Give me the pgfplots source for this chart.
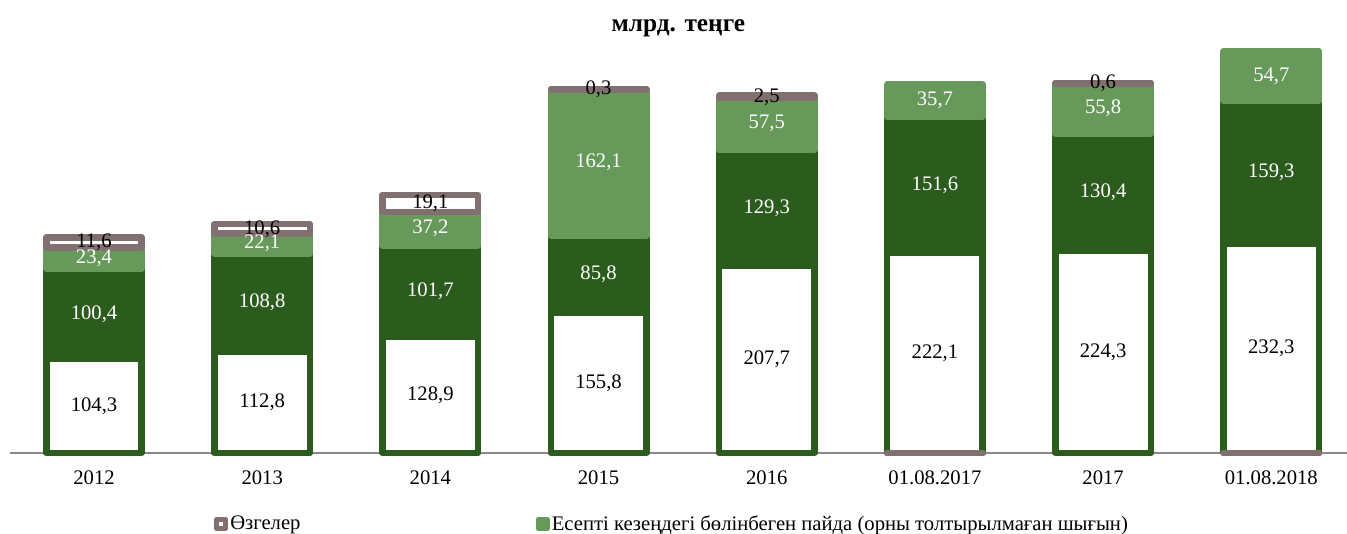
\documentclass[border=0pt]{standalone}
\usepackage{fontspec}
\setmainfont{Liberation Serif}
\usepackage{pgfplots}
\usepackage{pgfplotstable}
\pgfplotsset{compat=1.18}

\definecolor{darkg}{RGB}{43,91,29}
\definecolor{lightg}{RGB}{102,153,90}
\definecolor{othg}{RGB}{128,113,112}
\definecolor{axg}{RGB}{137,137,137}

% base, dark green and light green parts, one row per bar
% (rows 5 and 7 last: stacking goes by row, and they have no Өзгелер on top)
\pgfplotstableread{
x base dark light
0 104.3 100.4 23.4
1 112.8 108.8 22.1
2 128.9 101.7 37.2
3 155.8 85.8 162.1
4 207.7 129.3 57.5
6 224.3 130.4 55.8
5 222.1 151.6 35.7
7 232.3 159.3 54.7
}\bars

% Өзгелер on top
\pgfplotstableread{
x oth
0 11.6
1 10.6
2 19.1
3 0.3
4 2.5
6 0.6
}\others

\pgfplotsset{
  barbase/.style={
    x=126.15pt, y=0.675pt,
    xmin=-0.5, xmax=7.45, ymin=0, ymax=458.9,
    bar width=71.6pt,
    clip=false,
  },
  seg/.style={line width=4.9pt, line join=round},
}

\begin{document}
\begin{tikzpicture}[font=\fontsize{15.5}{18.6}\selectfont]
\begin{axis}[barbase, name=main,
  ybar stacked,
  reverse stacked plots=false,
  axis y line=none,
  axis x line*=bottom,
  x axis line style={-, draw=axg, line width=1.1pt},
  xtick={0,...,7},
  xticklabels={2012,2013,2014,2015,2016,01.08.2017,2017,01.08.2018},
  xtick style={draw=none},
  major tick length=0pt,
  xticklabel style={anchor=base, yshift=-23.5pt},
  title={\fontsize{19}{22}\selectfont\textbf{млрд. теңге}},
  title style={at={(axis description cs:0.5,1)}, anchor=center, yshift=2.5pt},
  point meta=explicit,
  nodes near coords={\pgfmathprintnumber[fixed,fixed zerofill,precision=1,use comma,assume math mode=true]{\pgfplotspointmeta}},
  every node near coord/.append style={anchor=center},
  legend columns=2,
  legend style={draw=none, fill=none, inner sep=0pt,
    at={(axis description cs:0.1527,-0.172)}, anchor=west,
    nodes={inner xsep=1.5pt},
    /tikz/column 2/.style={column sep=175pt}},
]
\addlegendimage{legend image code/.code={\draw[draw=othg,fill=white,line width=3.75pt,line join=round] (1.9pt,-3.4pt) rectangle (8.6pt,3.4pt);}}
\addlegendentry{Өзгелер}
\addlegendimage{legend image code/.code={\draw[draw=lightg,fill=lightg,line width=3.75pt,line join=round] (1.9pt,-3.4pt) rectangle (8.6pt,3.4pt);}}
\addlegendentry{Есепті кезеңдегі бөлінбеген пайда (орны толтырылмаған шығын)}

\addplot[fill=white, draw=darkg, seg, every node near coord/.append style={text=black}] table[x=x, y=base, meta=base] {\bars};
\addplot[fill=darkg, draw=darkg, seg, every node near coord/.append style={text=white}] table[x=x, y=dark, meta=dark] {\bars};
\addplot[fill=lightg, draw=lightg, seg, every node near coord/.append style={text=white}] table[x=x, y=light, meta=light] {\bars};
\addplot[fill=white, draw=othg, seg, every node near coord/.append style={text=black}] table[x=x, y=oth, meta=oth] {\others};
\end{axis}

% Өзгелер at the foot of the two 01.08 bars
\begin{axis}[barbase, hide axis, ybar]
\addplot[fill=white, draw=othg, seg] coordinates {(5,0) (7,0)};
\end{axis}

\pgfresetboundingbox
\path ([xshift=-7.43pt, yshift=-60.75pt]main.south west) rectangle ([yshift=30pt]main.north east);
\end{tikzpicture}
\end{document}
